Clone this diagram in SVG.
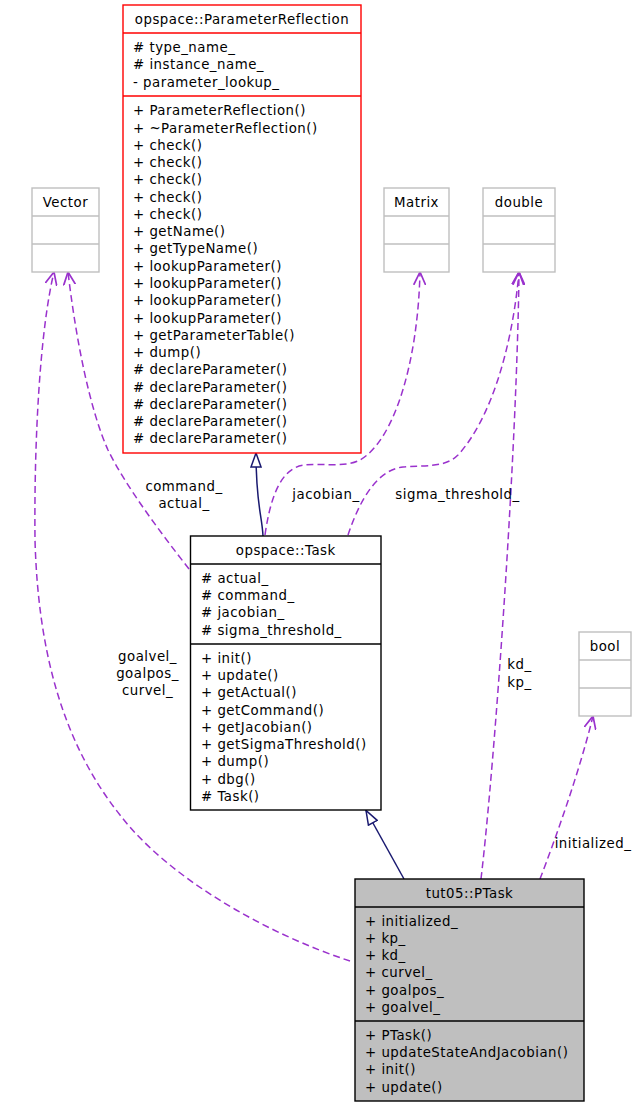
<svg xmlns="http://www.w3.org/2000/svg" width="637" height="1106" viewBox="0 0 637 1106">
<style>
text{font-family:"DejaVu Sans","Liberation Sans",sans-serif;font-size:13.33px;letter-spacing:0.5px;fill:#000}
.c{text-anchor:middle}
.box{fill:#fff;stroke:#000;stroke-width:1.4}
.red{fill:#fff;stroke:#ff0000;stroke-width:1.4}
.gry{fill:#fff;stroke:#bfbfbf;stroke-width:1.4}
.gfill{fill:#bfbfbf;stroke:#000;stroke-width:1.4}
.sep{stroke:#000;stroke-width:1.4}
.sepr{stroke:#ff0000;stroke-width:1.4}
.sepg{stroke:#bfbfbf;stroke-width:1.4}
.use{fill:none;stroke:#9a32cd;stroke-width:1.5;stroke-dasharray:7,4;marker-end:url(#vee)}
.inh{fill:none;stroke:#191970;stroke-width:1.5;marker-end:url(#tri)}
</style>
<defs>
<marker id="vee" viewBox="0 0 13 13" refX="13" refY="6.5" markerWidth="13" markerHeight="13" markerUnits="userSpaceOnUse" orient="auto">
<path d="M0,0.5 L13,6.5 L0,12.5" fill="none" stroke="#9a32cd" stroke-width="1.7" stroke-dasharray="none"/>
</marker>
<marker id="tri" viewBox="-1 -1 16 12" refX="14" refY="5" markerWidth="16" markerHeight="12" markerUnits="userSpaceOnUse" orient="auto">
<path d="M0,0 L14,5 L0,10 Z" fill="#fff" stroke="#191970" stroke-width="1.5" stroke-dasharray="none"/>
</marker>
</defs>

<g id="connectors">
<path class="use" d="M350,961 C270,935 170,880 120,815 C62,742 38,650 35,540 C34,440 40,330 54,272"/>
<path class="use" d="M189,569 C160,532 125,485 108,450 C90,410 76,340 68,272"/>
<path class="use" d="M265,535 C270,500 280,467 305,465 C322,463 345,468 360,460 C395,440 418,360 420,272"/>
<path class="use" d="M348,535 C358,505 375,470 403,467 C425,465 445,468 458,455 C490,420 512,350 519,272"/>
<path class="use" d="M481,879 C495,760 517,450 519,272"/>
<path class="use" d="M540,879 C555,840 580,770 593,716"/>
<path class="inh" d="M263,536 C262,515 256,505 256,453"/>
<path class="inh" d="M404,879 L366,810.5"/>
<text class="c" x="184" y="490.5">command_</text>
<text class="c" x="184" y="507.5">actual_</text>
<text class="c" x="326" y="498.5">jacobian_</text>
<text class="c" x="457.5" y="498.5">sigma_threshold_</text>
<text class="c" x="147.5" y="660.5">goalvel_</text>
<text class="c" x="147.5" y="678">goalpos_</text>
<text class="c" x="147.5" y="695">curvel_</text>
<text class="c" x="519.5" y="669">kd_</text>
<text class="c" x="519.5" y="686.5">kp_</text>
<text class="c" x="593" y="847.5">initialized_</text>
</g>

<g id="ParameterReflection">
<rect class="red" x="123" y="5" width="238" height="448"/>
<line class="sepr" x1="123" y1="33" x2="361" y2="33"/>
<line class="sepr" x1="123" y1="96" x2="361" y2="96"/>
<text class="c" x="242" y="23.8">opspace::ParameterReflection</text>
<text x="133" y="52"># type_name_</text>
<text x="133" y="69.3"># instance_name_</text>
<text x="133" y="86.6">- parameter_lookup_</text>
<text x="133" y="115.2">+ ParameterReflection()</text>
<text x="133" y="132.5">+ ~ParameterReflection()</text>
<text x="133" y="149.7">+ check()</text>
<text x="133" y="167">+ check()</text>
<text x="133" y="184.3">+ check()</text>
<text x="133" y="201.6">+ check()</text>
<text x="133" y="218.8">+ check()</text>
<text x="133" y="236.1">+ getName()</text>
<text x="133" y="253.4">+ getTypeName()</text>
<text x="133" y="270.7">+ lookupParameter()</text>
<text x="133" y="287.9">+ lookupParameter()</text>
<text x="133" y="305.2">+ lookupParameter()</text>
<text x="133" y="322.5">+ lookupParameter()</text>
<text x="133" y="339.7">+ getParameterTable()</text>
<text x="133" y="357">+ dump()</text>
<text x="133" y="374.3"># declareParameter()</text>
<text x="133" y="391.6"># declareParameter()</text>
<text x="133" y="408.8"># declareParameter()</text>
<text x="133" y="426.1"># declareParameter()</text>
<text x="133" y="443.4"># declareParameter()</text>
</g>

<g id="Vector">
<rect class="gry" x="32" y="188" width="67" height="84"/>
<line class="sepg" x1="32" y1="216" x2="99" y2="216"/>
<line class="sepg" x1="32" y1="244" x2="99" y2="244"/>
<text class="c" x="65.5" y="206.8">Vector</text>
</g>

<g id="Matrix">
<rect class="gry" x="384" y="188" width="65" height="84"/>
<line class="sepg" x1="384" y1="216" x2="449" y2="216"/>
<line class="sepg" x1="384" y1="244" x2="449" y2="244"/>
<text class="c" x="416.5" y="206.8">Matrix</text>
</g>

<g id="double">
<rect class="gry" x="483" y="188" width="72" height="84"/>
<line class="sepg" x1="483" y1="216" x2="555" y2="216"/>
<line class="sepg" x1="483" y1="244" x2="555" y2="244"/>
<text class="c" x="519" y="206.8">double</text>
</g>

<g id="bool">
<rect class="gry" x="579" y="632" width="52" height="84"/>
<line class="sepg" x1="579" y1="660" x2="631" y2="660"/>
<line class="sepg" x1="579" y1="688" x2="631" y2="688"/>
<text class="c" x="605" y="650.8">bool</text>
</g>

<g id="Task">
<rect class="box" x="190.5" y="536" width="190.5" height="274"/>
<line class="sep" x1="190.5" y1="564" x2="381" y2="564"/>
<line class="sep" x1="190.5" y1="644" x2="381" y2="644"/>
<text class="c" x="285.75" y="554.8">opspace::Task</text>
<text x="201" y="582.8"># actual_</text>
<text x="201" y="600.1"># command_</text>
<text x="201" y="617.4"># jacobian_</text>
<text x="201" y="634.7"># sigma_threshold_</text>
<text x="201" y="662.6">+ init()</text>
<text x="201" y="679.9">+ update()</text>
<text x="201" y="697.2">+ getActual()</text>
<text x="201" y="714.5">+ getCommand()</text>
<text x="201" y="731.8">+ getJacobian()</text>
<text x="201" y="749.1">+ getSigmaThreshold()</text>
<text x="201" y="766.4">+ dump()</text>
<text x="201" y="783.7">+ dbg()</text>
<text x="201" y="801"># Task()</text>
</g>

<g id="PTask">
<rect class="gfill" x="355" y="879" width="229" height="222"/>
<line class="sep" x1="355" y1="907" x2="584" y2="907"/>
<line class="sep" x1="355" y1="1021" x2="584" y2="1021"/>
<text class="c" x="469.5" y="897.8">tut05::PTask</text>
<text x="365" y="925.5">+ initialized_</text>
<text x="365" y="942.8">+ kp_</text>
<text x="365" y="960.1">+ kd_</text>
<text x="365" y="977.4">+ curvel_</text>
<text x="365" y="994.7">+ goalpos_</text>
<text x="365" y="1012">+ goalvel_</text>
<text x="365" y="1039.8">+ PTask()</text>
<text x="365" y="1057.1">+ updateStateAndJacobian()</text>
<text x="365" y="1074.4">+ init()</text>
<text x="365" y="1091.7">+ update()</text>
</g>
</svg>
